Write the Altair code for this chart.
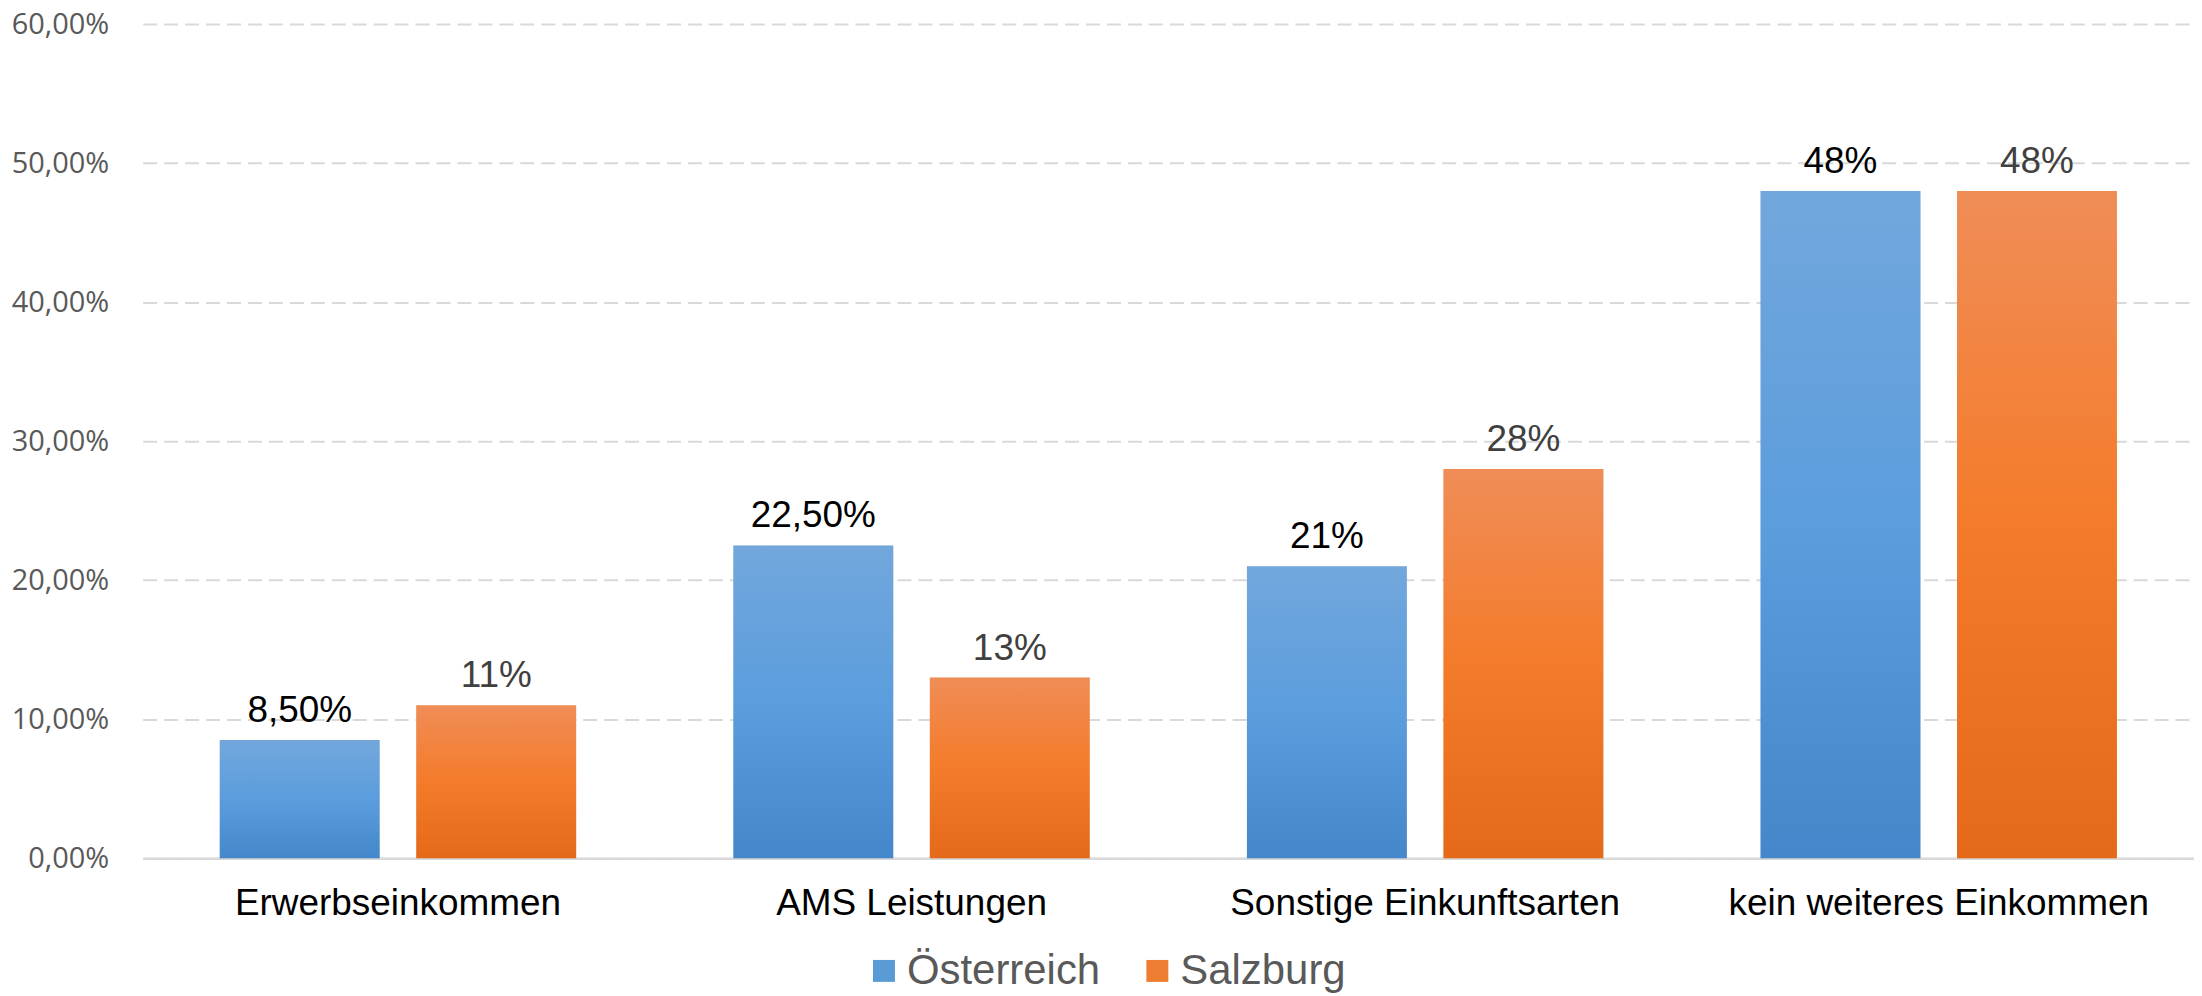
import altair as alt
import pandas as pd

categories = ["Erwerbseinkommen", "AMS Leistungen", "Sonstige Einkunftsarten", "kein weiteres Einkommen"]
series = ["Österreich", "Salzburg"]
oesterreich = [0.085, 0.225, 0.21, 0.48]
salzburg = [0.11, 0.13, 0.28, 0.48]
labels_oe = ["8,50%", "22,50%", "21%", "48%"]
labels_sb = ["11%", "13%", "28%", "48%"]
y_ticks = [0, 0.1, 0.2, 0.3, 0.4, 0.5, 0.6]

rows = []
for i, c in enumerate(categories):
    rows.append({"cat": c, "series": series[0], "value": oesterreich[i], "label": labels_oe[i]})
    rows.append({"cat": c, "series": series[1], "value": salzburg[i], "label": labels_sb[i]})
df = pd.DataFrame(rows)

blue_grad = alt.LinearGradient(
    gradient="linear", x1=0, x2=0, y1=0, y2=1,
    stops=[alt.GradientStop(color="#72a7dc", offset=0),
           alt.GradientStop(color="#5b9ddd", offset=0.5),
           alt.GradientStop(color="#4487ca", offset=1)])
orange_grad = alt.LinearGradient(
    gradient="linear", x1=0, x2=0, y1=0, y2=1,
    stops=[alt.GradientStop(color="#f08d57", offset=0),
           alt.GradientStop(color="#f47b2a", offset=0.5),
           alt.GradientStop(color="#e46a19", offset=1)])

x_enc = alt.X("cat:N", sort=categories,
              scale=alt.Scale(paddingInner=0.306, paddingOuter=0.15),
              axis=alt.Axis(title=None, labelAngle=0, labelFontSize=37, labelFont="Liberation Sans",
                            labelColor="#000000", labelPadding=27, labelLimit=0, ticks=False,
                            domain=True, domainColor="#d9d9d9", domainWidth=2.5, grid=False))
xoff_enc = alt.XOffset("series:N", sort=series,
                       scale=alt.Scale(domain=series, paddingInner=0.186, paddingOuter=0))
y_scale = alt.Scale(domain=[0, 0.6], nice=False)
y_axis = alt.Axis(title=None, values=y_ticks,
                  labelExpr="replace(format(datum.value, '.2%'), '.', ',')",
                  labelFontSize=29, labelFont="Open Sans", labelColor="#595959",
                  labelPadding=34, ticks=False, domain=False,
                  grid=True, gridColor="#d9d9d9", gridWidth=2, gridDash=[14, 7])
y_enc = alt.Y("value:Q", scale=y_scale, axis=y_axis)

base = alt.Chart(df)

shadow = base.mark_bar(color="#000000", opacity=0.10, xOffset=3).encode(
    x=x_enc, xOffset=xoff_enc, y=y_enc)

bars_oe = base.transform_filter(alt.datum.series == series[0]).mark_bar(fill=blue_grad).encode(
    x=x_enc, xOffset=xoff_enc, y=y_enc)
bars_sb = base.transform_filter(alt.datum.series == series[1]).mark_bar(fill=orange_grad).encode(
    x=x_enc, xOffset=xoff_enc, y=y_enc)

legend_layer = base.transform_calculate(zero="0").mark_bar().encode(
    x=x_enc, xOffset=xoff_enc,
    y=alt.Y("zero:Q", scale=y_scale, axis=y_axis),
    color=alt.Color("series:N", sort=series,
                    scale=alt.Scale(domain=series, range=["#5b9bd5", "#ed7d31"]),
                    legend=alt.Legend(title=None, orient="none", direction="horizontal",
                                      legendX=722, legendY=928,
                                      labelFontSize=42, labelFont="Liberation Sans",
                                      labelColor="#595959", symbolType="square",
                                      symbolSize=484, symbolStrokeWidth=0,
                                      labelOffset=2, columnPadding=36, padding=0,
                                      labelLimit=0)))

text_oe = base.transform_filter(alt.datum.series == series[0]).mark_text(
    font="Liberation Sans", fontSize=37, color="#000000", baseline="alphabetic", dy=-18).encode(
    x=x_enc, xOffset=xoff_enc, y=y_enc, text="label:N")
text_sb = base.transform_filter(alt.datum.series == series[1]).mark_text(
    font="Liberation Sans", fontSize=37, color="#404040", baseline="alphabetic", dy=-18).encode(
    x=x_enc, xOffset=xoff_enc, y=y_enc, text="label:N")

chart = alt.layer(shadow, bars_oe, bars_sb, legend_layer, text_oe, text_sb).properties(
    width=2056, height=836,
    padding={"left": 3, "top": 1, "right": 0, "bottom": 0},
    background="#ffffff",
).configure_view(stroke=None)

chart.save("out.html", embed_options={"renderer": "svg", "actions": False})
